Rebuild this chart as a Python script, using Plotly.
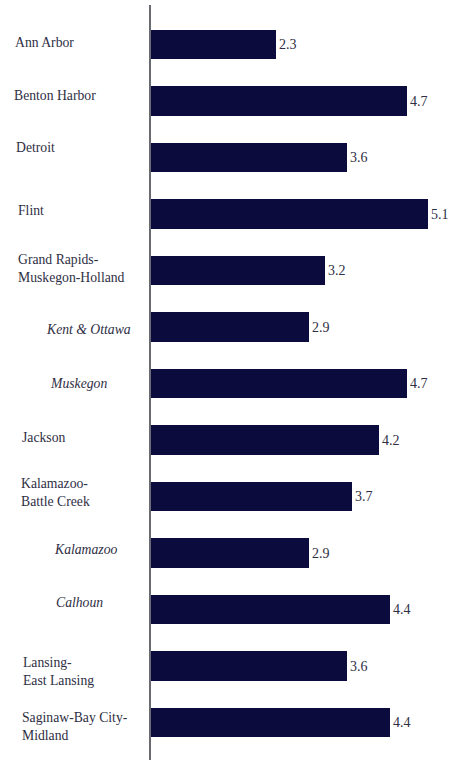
import plotly.graph_objects as go

# Metro areas / counties, top to bottom
areas = [
    "Ann Arbor",
    "Benton Harbor",
    "Detroit",
    "Flint",
    "Grand Rapids-<br>Muskegon-Holland",
    "Kent & Ottawa",
    "Muskegon",
    "Jackson",
    "Kalamazoo-<br>Battle Creek",
    "Kalamazoo",
    "Calhoun",
    "Lansing-<br>East Lansing",
    "Saginaw-Bay City-<br>Midland",
]
values = [2.3, 4.7, 3.6, 5.1, 3.2, 2.9, 4.7, 4.2, 3.7, 2.9, 4.4, 3.6, 4.4]
# counties shown in italics under their metro area
is_county = [False, False, False, False, False, True, True, False, False, True, True, False, False]

# layout tweaks for the left-hand labels: left edge (px) and vertical nudge (px, up positive)
label_left_px = [13, 12, 14, 16, 16, 44, 48, 20, 19, 52, 54, 21, 20]
label_nudge_px = [2, 6, 10, 4, 2, -2, 0, 3, 4, 4, 7, -5, -4]

W, H = 455, 760
L_MARGIN, T_MARGIN = 151, 5
plot_w = W - L_MARGIN

BAR_COLOR = "#0b0b3d"
TEXT_COLOR = "#2e2e44"
FONT = "Liberation Serif"

positions = list(range(len(areas)))

fig = go.Figure(
    go.Bar(
        x=values,
        y=positions,
        orientation="h",
        width=0.52,
        marker=dict(color=BAR_COLOR, line=dict(width=0)),
        text=[f"{v:.1f}" for v in values],
        textposition="outside",
        constraintext="none",
        cliponaxis=False,
        textfont=dict(family=FONT, size=14, color=TEXT_COLOR),
        hoverinfo="skip",
    )
)

annotations = []
for i, name in enumerate(areas):
    txt = f"<i>{name}</i>" if is_county[i] else name
    annotations.append(
        dict(
            text=txt,
            xref="paper",
            yref="y",
            x=(label_left_px[i] - L_MARGIN) / plot_w,
            y=i,
            xanchor="left",
            yanchor="middle",
            align="left",
            showarrow=False,
            yshift=label_nudge_px[i],
            font=dict(family=FONT, size=13.7, color=TEXT_COLOR),
        )
    )

px_per_unit = 54.4
row_px = 56.5
first_center_px = 44.5
top_pos = -(first_center_px - T_MARGIN) / row_px
bottom_pos = (len(areas) - 1) + (H - (first_center_px + row_px * (len(areas) - 1))) / row_px

fig.update_layout(
    width=W,
    height=H,
    margin=dict(l=L_MARGIN, r=0, t=T_MARGIN, b=0, pad=0),
    paper_bgcolor="white",
    plot_bgcolor="white",
    showlegend=False,
    bargap=0,
    font=dict(family=FONT),
    annotations=annotations,
    xaxis=dict(
        range=[0, plot_w / px_per_unit],
        visible=False,
        fixedrange=True,
    ),
    yaxis=dict(
        range=[bottom_pos, top_pos],
        showticklabels=False,
        ticks="",
        showgrid=False,
        zeroline=False,
        showline=True,
        linecolor="#6a6a72",
        linewidth=1.5,
        fixedrange=True,
    ),
)

fig.write_html("out.html", config={"displayModeBar": False})
